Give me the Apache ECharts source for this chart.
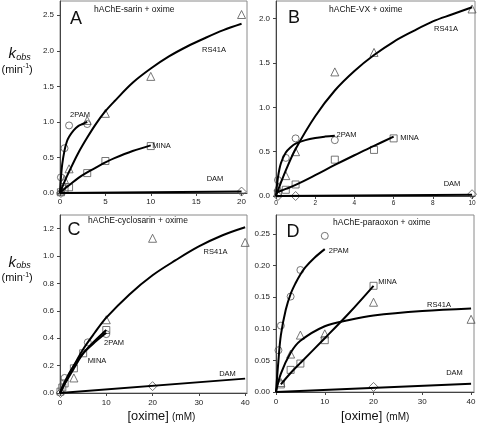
<!DOCTYPE html>
<html><head><meta charset="utf-8">
<script src="https://cdn.jsdelivr.net/npm/echarts@6/dist/echarts.min.js"></script>
<style>html,body{margin:0;padding:0;background:#fff}#c{width:477px;height:424px}</style>
</head><body><div id="c"></div>
<script>
// ---------- tick labels ----------
const ticksAx = [0, 5, 10, 15, 20];
const ticksAy = [0, 0.5, 1.0, 1.5, 2.0, 2.5];
const ticksBx = [0, 2, 4, 6, 8, 10];
const ticksBy = [0, 0.5, 1.0, 1.5, 2.0];
const ticksCx = [0, 10, 20, 30, 40];
const ticksCy = [0, 0.2, 0.4, 0.6, 0.8, 1.0, 1.2];
const ticksDx = [0, 10, 20, 30, 40];
const ticksDy = [0, 0.05, 0.10, 0.15, 0.20, 0.25];

// ---------- Panel A: hAChE-sarin ----------
const aRsX = [0.1, 0.5, 1, 3, 5, 10, 20];
const aRsY = [0.03, 0.19, 0.34, 1.02, 1.12, 1.64, 2.51];
const aPamX = [0.1, 0.5, 1, 3];
const aPamY = [0.22, 0.63, 0.95, 0.97];
const aMinaX = [0.1, 0.5, 1, 3, 5, 10];
const aMinaY = [0.01, 0.06, 0.08, 0.28, 0.45, 0.66];
const aDamX = [0.1, 20];
const aDamY = [0.0, 0.02];
const aRsFitX = [0, 0.5, 1, 2, 3, 4, 5, 6, 8, 10, 12, 14, 16, 18, 20];
const aRsFitY = [0, 0.16, 0.30, 0.56, 0.78, 0.98, 1.15, 1.29, 1.55, 1.75, 1.92, 2.06, 2.18, 2.29, 2.38];
const aPamFitX = [0, 0.1, 0.25, 0.5, 0.75, 1, 1.5, 2, 2.5, 3];
const aPamFitY = [0, 0.21, 0.41, 0.60, 0.72, 0.79, 0.88, 0.94, 0.97, 1.0];
const aMinaFitX = [0, 0.5, 1, 2, 3, 4, 5, 6, 8, 10];
const aMinaFitY = [0, 0.06, 0.11, 0.21, 0.29, 0.36, 0.43, 0.49, 0.59, 0.67];
const aDamFitX = [0, 20];
const aDamFitY = [0, 0.02];

// ---------- Panel B: hAChE-VX ----------
const bRsX = [0.1, 0.5, 1, 3, 5, 10];
const bRsY = [0.10, 0.23, 0.50, 1.40, 1.62, 2.11];
const bPamX = [0.1, 0.5, 1, 3];
const bPamY = [0.18, 0.43, 0.65, 0.63];
const bMinaX = [0.1, 0.5, 1, 3, 5, 6];
const bMinaY = [0.03, 0.07, 0.13, 0.41, 0.52, 0.65];
const bDamX = [0.1, 1, 10];
const bDamY = [0.0, 0.0, 0.02];
const bRsFitX = [0, 0.25, 0.5, 1, 2, 3, 4, 5, 6, 7, 8, 9, 10];
const bRsFitY = [0, 0.15, 0.29, 0.53, 0.90, 1.19, 1.41, 1.59, 1.74, 1.86, 1.97, 2.05, 2.13];
const bPamFitX = [0, 0.1, 0.25, 0.5, 0.75, 1, 1.5, 2, 2.5, 3];
const bPamFitY = [0, 0.21, 0.37, 0.49, 0.55, 0.59, 0.63, 0.655, 0.67, 0.68];
const bMinaFitX = [0.1, 0.5, 1, 2, 3, 4, 5, 6];
const bMinaFitY = [0.045, 0.08, 0.125, 0.235, 0.35, 0.46, 0.565, 0.67];
const bDamFitX = [0, 10];
const bDamFitY = [0, 0.015];

// ---------- Panel C: hAChE-cyclosarin ----------
const cRsX = [3, 10, 20, 40];
const cRsY = [0.11, 0.535, 1.13, 1.10];
const cPamX = [1, 6, 10];
const cPamY = [0.11, 0.37, 0.43];
const cMinaX = [0.1, 0.5, 1, 3, 5, 10];
const cMinaY = [0.01, 0.04, 0.07, 0.18, 0.29, 0.46];
const cDamX = [0.1, 20];
const cDamY = [0.0, 0.05];
const cRsFitX = [0, 1, 2, 3, 5, 7.5, 10, 15, 20, 25, 30, 35, 40];
const cRsFitY = [0, 0.07, 0.14, 0.20, 0.32, 0.44, 0.55, 0.72, 0.86, 0.97, 1.07, 1.15, 1.21];
const cPamFitX = [0, 1, 3, 5, 7.5, 10];
const cPamFitY = [0, 0.08, 0.20, 0.29, 0.37, 0.44];
const cMinaFitX = [0, 1, 3, 5, 7.5, 10];
const cMinaFitY = [0, 0.065, 0.18, 0.29, 0.38, 0.46];
const cDamFitX = [0, 40];
const cDamFitY = [0, 0.105];

// ---------- Panel D: hAChE-paraoxon ----------
const dRsX = [1, 3, 5, 10, 20, 40];
const dRsY = [0.015, 0.06, 0.09, 0.092, 0.142, 0.115];
const dPamX = [0.5, 1, 3, 5, 10];
const dPamY = [0.066, 0.105, 0.151, 0.193, 0.247];
const dMinaX = [1, 3, 5, 10, 20];
const dMinaY = [0.012, 0.035, 0.045, 0.082, 0.168];
const dDamX = [20];
const dDamY = [0.008];
const dRsFitX = [0, 1, 3, 5, 10, 15, 20, 30, 40];
const dRsFitY = [0, 0.029, 0.062, 0.081, 0.104, 0.114, 0.121, 0.128, 0.132];
const dPamFitX = [0, 0.5, 1, 2, 3, 4, 5, 6, 8, 10];
const dPamFitY = [0, 0.05, 0.09, 0.13, 0.155, 0.172, 0.186, 0.197, 0.213, 0.226];
const dMinaFitX = [1, 3, 5, 10, 15, 20];
const dMinaFitY = [0.012, 0.03, 0.046, 0.085, 0.125, 0.168];
const dDamFitX = [0, 40];
const dDamFitY = [0, 0.013];

// ---------- helpers ----------
const FONT = 'Liberation Sans, Arial, Helvetica, sans-serif';
const zip = (xs, ys) => xs.map((x, i) => [x, ys[i]]);

const panels = [
  { grid: { left: 60, top: 1, width: 187, height: 192 }, xmax: 20.6, ymax: 2.7, xt: ticksAx, yt: ticksAy, yd: 1, xfs: 8, xm: 5,
    fits: [[aRsFitX, aRsFitY], [aPamFitX, aPamFitY], [aMinaFitX, aMinaFitY], [aDamFitX, aDamFitY]],
    pts: [[aRsX, aRsY, 'triangle'], [aPamX, aPamY, 'circle'], [aMinaX, aMinaY, 'rect'], [aDamX, aDamY, 'diamond']] },
  { grid: { left: 276, top: 1, width: 199, height: 195 }, xmax: 10.15, ymax: 2.2, xt: ticksBx, yt: ticksBy, yd: 1, xfs: 6.5, xm: 4,
    fits: [[bRsFitX, bRsFitY], [bPamFitX, bPamFitY], [bMinaFitX, bMinaFitY], [bDamFitX, bDamFitY]],
    pts: [[bRsX, bRsY, 'triangle'], [bPamX, bPamY, 'circle'], [bMinaX, bMinaY, 'rect'], [bDamX, bDamY, 'diamond']] },
  { grid: { left: 60, top: 215, width: 187, height: 178 }, xmax: 40.4, ymax: 1.3, xt: ticksCx, yt: ticksCy, yd: 1, xfs: 8, xm: 6,
    fits: [[cRsFitX, cRsFitY], [cPamFitX, cPamFitY], [cMinaFitX, cMinaFitY], [cDamFitX, cDamFitY]],
    pts: [[cRsX, cRsY, 'triangle'], [cPamX, cPamY, 'circle'], [cMinaX, cMinaY, 'rect'], [cDamX, cDamY, 'diamond']] },
  { grid: { left: 276, top: 215, width: 198, height: 177 }, xmax: 40.6, ymax: 0.28, xt: ticksDx, yt: ticksDy, yd: 2, xfs: 8, xm: 6,
    fits: [[dRsFitX, dRsFitY], [dPamFitX, dPamFitY], [dMinaFitX, dMinaFitY], [dDamFitX, dDamFitY]],
    pts: [[dRsX, dRsY, 'triangle'], [dPamX, dPamY, 'circle'], [dMinaX, dMinaY, 'rect'], [dDamX, dDamY, 'diamond']] }
];

const grid = [], xAxis = [], yAxis = [], series = [];
panels.forEach((p, i) => {
  grid.push(Object.assign({ show: true, borderColor: '#8a8a8a', borderWidth: 1, backgroundColor: '#fff', containLabel: false, outerBoundsMode: 'none' }, p.grid));
  xAxis.push({
    type: 'value', gridIndex: i, min: 0, max: p.xmax,
    splitLine: { show: false },
    axisLine: { show: true, onZero: false, lineStyle: { color: '#444', width: 1 } },
    axisTick: { show: true, length: 3, customValues: p.xt, lineStyle: { color: '#444' } },
    axisLabel: { customValues: p.xt, margin: p.xm, fontSize: p.xfs, color: '#222', fontFamily: FONT, formatter: v => String(v) }
  });
  yAxis.push({
    type: 'value', gridIndex: i, min: 0, max: p.ymax,
    splitLine: { show: false },
    axisLine: { show: true, onZero: false, lineStyle: { color: '#444', width: 1 } },
    axisTick: { show: true, length: 3, customValues: p.yt, lineStyle: { color: '#444' } },
    axisLabel: { customValues: p.yt, margin: 6, fontSize: 8, color: '#222', fontFamily: FONT, formatter: v => v.toFixed(p.yd) }
  });
  p.pts.forEach(([xs, ys, sym]) => {
    series.push({
      type: 'scatter', xAxisIndex: i, yAxisIndex: i, data: zip(xs, ys), symbol: sym,
      symbolSize: sym === 'triangle' ? 8 : (sym === 'diamond' ? 9 : 7), z: 2,
      itemStyle: { color: 'rgba(255,255,255,0)', borderColor: '#555', borderWidth: 1 }
    });
  });
  p.fits.forEach(([xs, ys]) => {
    series.push({
      type: 'line', xAxisIndex: i, yAxisIndex: i, data: zip(xs, ys), smooth: 0.35,
      showSymbol: false, symbol: 'none', z: 3, lineStyle: { color: '#000', width: 2 }
    });
  });
});

const txt = (text, x, y, size, opts) => Object.assign({
  type: 'text', x: x, y: y, silent: true, z: 100,
  style: Object.assign({ text: text, fontSize: size, fontFamily: FONT, fill: '#111', align: 'center', verticalAlign: 'middle' }, opts || {})
});
const L = { align: 'left' };
const LI = { align: 'left', fontStyle: 'italic' };

function yName(dy) {
  return [
    txt('k', 8.5, 54.2 + dy, 15, LI),
    txt('obs', 16.3, 57.4 + dy, 9, LI),
    txt('(min', 1.5, 69.5 + dy, 11, L),
    txt('-1', 22.8, 66.5 + dy, 7, L),
    txt(')', 29, 69.5 + dy, 11, L)
  ];
}

const graphic = [
  // panel letters & titles
  txt('A', 76, 19, 18), txt('hAChE-sarin + oxime', 94, 10, 8.5, L),
  txt('B', 294, 18, 18), txt('hAChE-VX + oxime', 329, 10, 8.5, L),
  txt('C', 74, 230, 18), txt('hAChE-cyclosarin + oxime', 88, 220.5, 8.5, L),
  txt('D', 293, 232, 18), txt('hAChE-paraoxon + oxime', 333, 223, 8.5, L),
  // curve labels A
  txt('RS41A', 214, 49.5, 7.5), txt('2PAM', 80, 114.5, 7.5), txt('MINA', 161.5, 146, 7.5), txt('DAM', 215, 178.5, 7.5),
  // B
  txt('RS41A', 446, 28.5, 7.5), txt('2PAM', 346.5, 135, 7.5), txt('MINA', 409.5, 137.5, 7.5), txt('DAM', 452, 184, 7.5),
  // C
  txt('RS41A', 215.5, 252, 7.5), txt('2PAM', 114, 342.5, 7.5), txt('MINA', 97, 361, 7.5), txt('DAM', 227.5, 374, 7.5),
  // D
  txt('2PAM', 338.7, 251, 7.5), txt('MINA', 387.5, 281.5, 7.5), txt('RS41A', 439, 304.5, 7.5), txt('DAM', 454.5, 373, 7.5),
  // x-axis names
  txt('[oxime]', 127.5, 416.7, 12.8, L), txt('(mM)', 172, 417.5, 10, L),
  txt('[oxime]', 341, 416.7, 12.8, L), txt('(mM)', 386, 417.5, 10, L)
].concat(yName(0), yName(208.5));

const chart = echarts.init(document.getElementById('c'), null, { renderer: 'canvas' });
chart.setOption({ animation: false, backgroundColor: '#fff', grid, xAxis, yAxis, series, graphic });
</script>
</body></html>
